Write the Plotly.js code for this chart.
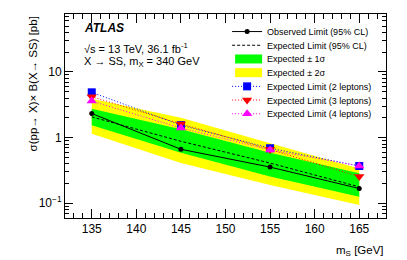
<!DOCTYPE html>
<html>
<head>
<meta charset="utf-8">
<script src="https://cdn.plot.ly/plotly-3.0.1.min.js"></script>
<style>html,body{margin:0;padding:0;background:#fff;}#chart{width:407px;height:260px;}</style>
</head>
<body>
<div id="chart"></div>
<script>
// ---- data ----
const massS = [135, 145, 155, 165];
const observedLimit = [2.33, 0.665, 0.356, 0.168];
const expectedLimit = [2.07, 0.88, 0.41, 0.178];
const sigma1Up = [2.76, 1.34, 0.59, 0.287];
const sigma1Down = [1.55, 0.59, 0.255, 0.126];
const sigma2Up = [3.9, 2.0, 0.82, 0.34];
const sigma2Down = [1.15, 0.41, 0.19, 0.094];
const expected2Lep = [4.9, 1.55, 0.69, 0.37];
const expected3Lep = [4.2, 1.62, 0.66, 0.255];
const expected4Lep = [3.6, 1.40, 0.65, 0.37];

const xTickVals = [135, 140, 145, 150, 155, 160, 165];
const xMinorVals = [133,134,136,137,138,139,141,142,143,144,146,147,148,149,151,152,153,154,156,157,158,159,161,162,163,164,166,167];
const yTickVals = [0.1, 1, 10];
const yTickText = ['10<sup>−1</sup>', '1', '10'];
const yMinorVals = [0.07,0.08,0.09,0.2,0.3,0.4,0.5,0.6,0.7,0.8,0.9,2,3,4,5,6,7,8,9,20,30,40,50,60,70];

const legendNames = ['Observed Limit (95% CL)', 'Expected Limit (95% CL)', 'Expected ± 1σ', 'Expected ± 2σ',
  'Expected Limit (2 leptons)', 'Expected Limit (3 leptons)', 'Expected Limit (4 leptons)'];

function band(up, down) {
  return { x: massS.concat(massS.slice().reverse()), y: up.concat(down.slice().reverse()) };
}
const b2 = band(sigma2Up, sigma2Down);
const b1 = band(sigma1Up, sigma1Down);

const traces = [
  { x: b2.x, y: b2.y, type: 'scatter', mode: 'lines', fill: 'toself', fillcolor: '#ffff00',
    line: { width: 0, color: '#ffff00' }, name: legendNames[3], legendrank: 4, hoverinfo: 'skip' },
  { x: b1.x, y: b1.y, type: 'scatter', mode: 'lines', fill: 'toself', fillcolor: '#00ff00',
    line: { width: 0, color: '#00ff00' }, name: legendNames[2], legendrank: 3, hoverinfo: 'skip' },
  { x: massS, y: expectedLimit, type: 'scatter', mode: 'lines', name: legendNames[1], legendrank: 2,
    line: { color: '#000', width: 1, dash: '3px,2px' } },
  { x: massS, y: observedLimit, type: 'scatter', mode: 'lines+markers', name: legendNames[0], legendrank: 1,
    line: { color: '#000', width: 1 }, marker: { color: '#000', size: 5, symbol: 'circle' } },
  { x: massS, y: expected2Lep, type: 'scatter', mode: 'lines+markers', name: legendNames[4], legendrank: 5,
    line: { color: '#0000ff', width: 1, dash: '1px,2px' }, marker: { color: '#0000ff', size: 8, symbol: 'square' } },
  { x: massS, y: expected3Lep, type: 'scatter', mode: 'lines+markers', name: legendNames[5], legendrank: 6,
    line: { color: '#ff0000', width: 1, dash: '1px,2px' }, marker: { color: '#ff0000', size: 9, symbol: 'triangle-down' } },
  { x: massS, y: expected4Lep, type: 'scatter', mode: 'lines+markers', name: legendNames[6], legendrank: 7,
    line: { color: '#ff00ff', width: 1, dash: '1px,2px' }, marker: { color: '#ff00ff', size: 9, symbol: 'triangle-up' } }
];

const FONT = 'Liberation Sans, Arial, Helvetica, sans-serif';

const layout = {
  width: 407, height: 260,
  margin: { l: 65, r: 21, t: 14, b: 42 },
  paper_bgcolor: '#fff', plot_bgcolor: '#fff',
  font: { family: FONT, color: '#000', size: 12 },
  showlegend: true,
  legend: {
    x: 0.505, y: 0.985, xanchor: 'left', yanchor: 'top',
    bgcolor: 'rgba(0,0,0,0)', borderwidth: 0,
    font: { family: FONT, size: 9, color: '#000' },
    itemwidth: 30, traceorder: 'normal'
  },
  xaxis: {
    range: [132, 168], showgrid: false, zeroline: false,
    showline: true, linecolor: '#000', linewidth: 1, mirror: 'allticks',
    ticks: 'inside', ticklen: 9, tickcolor: '#000', tickwidth: 1,
    tickmode: 'array', tickvals: xTickVals,
    tickfont: { family: FONT, size: 12 },
    minor: { tickmode: 'array', tickvals: xMinorVals, ticks: 'inside', ticklen: 5, tickcolor: '#000', showgrid: false }
  },
  yaxis: {
    type: 'log', range: [-1.224, 1.883], showgrid: false, zeroline: false,
    showline: true, linecolor: '#000', linewidth: 1, mirror: 'allticks',
    ticks: 'inside', ticklen: 8, tickcolor: '#000', tickwidth: 1,
    tickmode: 'array', tickvals: yTickVals, ticktext: yTickText,
    tickfont: { family: FONT, size: 12 },
    minor: { tickmode: 'array', tickvals: yMinorVals, ticks: 'inside', ticklen: 4, tickcolor: '#000', showgrid: false }
  },
  annotations: [
    { text: '<b><i>ATLAS</i></b>', xref: 'paper', yref: 'paper', x: 0.053, y: 0.93, xanchor: 'left', yanchor: 'middle',
      showarrow: false, font: { family: FONT, size: 12 } },
    { text: '√s = 13 TeV, 36.1 fb<sup>-1</sup>', xref: 'paper', yref: 'paper', x: 0.053, y: 0.835, xanchor: 'left', yanchor: 'middle',
      showarrow: false, font: { family: FONT, size: 11 } },
    { text: 'X → SS, m<sub>X</sub> = 340 GeV', xref: 'paper', yref: 'paper', x: 0.053, y: 0.765, xanchor: 'left', yanchor: 'middle',
      showarrow: false, font: { family: FONT, size: 11 } },
    { text: 'σ(pp→ X)× B(X→ SS) [pb]', xref: 'paper', yref: 'paper', x: -0.1, y: 1.0, xanchor: 'center', yanchor: 'top',
      textangle: -90, showarrow: false, font: { family: FONT, size: 11.5 } },
    { text: 'm<sub>S</sub> [GeV]', xref: 'paper', yref: 'paper', x: 1.0, y: -0.12, xanchor: 'right', yanchor: 'top',
      showarrow: false, font: { family: FONT, size: 11.5 } }
  ]
};

Plotly.newPlot('chart', traces, layout, { displayModeBar: false, staticPlot: true }).then(function () {
  const items = Array.from(document.querySelectorAll('.legend .traces'));
  const parsed = items.map(function (g) {
    const m = /translate\(\s*([-\d.]+)[ ,]+([-\d.]+)\s*\)/.exec(g.getAttribute('transform') || '');
    return { g: g, x: m ? parseFloat(m[1]) : 0, y: m ? parseFloat(m[2]) : 0 };
  }).sort(function (a, b) { return a.y - b.y; });
  if (parsed.length) {
    const y0 = parsed[0].y;
    parsed.forEach(function (p, i) {
      p.g.setAttribute('transform', 'translate(' + p.x + ',' + (y0 + i * 13.7) + ')');
    });
  }
  // taller filled boxes for the band legend keys, like the reference
  document.querySelectorAll('.legend .legendfill path').forEach(function (p) {
    p.setAttribute('d', 'M8,-4.5h27v9h-27z');
  });
});
</script>
</body>
</html>
